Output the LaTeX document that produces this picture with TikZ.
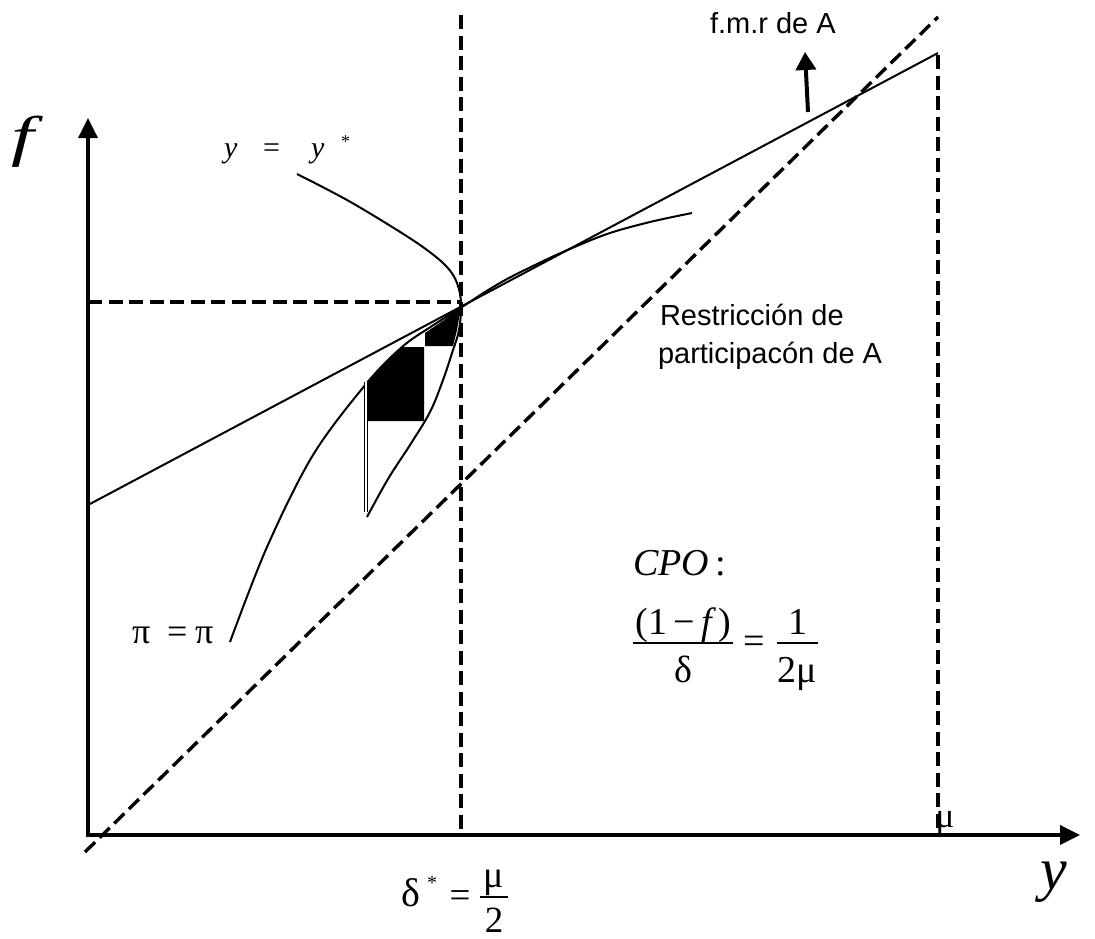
\documentclass[tikz,border=0pt]{standalone}
\usepackage{fontspec}
\setmainfont{Liberation Serif}
\newfontfamily\arial{Liberation Sans}
\usetikzlibrary{arrows.meta}
\tikzset{
  axis/.style={line width=3.6pt, -{Triangle[length=20pt,width=19pt]}},
  dsh/.style={line width=3.4pt, dash pattern=on 14pt off 6.5pt},
  curve/.style={line width=2pt, line join=round},
  lbl/.style={inner sep=0pt, outer sep=0pt},
  bar/.style={line width=1.6pt},
}
\newcommand{\fs}[1]{\fontsize{#1}{#1}\selectfont}
\begin{document}
\begin{tikzpicture}[x=1pt,y=-1pt]
\useasboundingbox (0,0) rectangle (1095,938);
% black fills
\fill[black] (366,383) -- (383,365) -- (402,347) -- (424,347) -- (424,421) -- (366,421) -- cycle;
\fill[black] (425,333) -- (425,346) -- (453,346) -- (457,330) -- (461,307) -- (444,320) -- cycle;
% dashed lines
\draw[dsh] (461,15) -- (461,835);
\draw[dsh] (938,55) -- (938,835);
\draw[dsh] (88,302) -- (461,302);
\draw[dsh] (85,852) -- (938,17);
% solid line (f.m.r de A)
\draw[curve] (88,505) -- (938,53);
% y = y* curve
\draw[curve] plot[smooth, tension=0.6] coordinates {(297,174) (347,200) (397,230) (427,250) (447,267) (457,283) (461,303) (459,330) (452,353) (443,380) (430,412) (410,445) (388,479) (367,517)};
% pi = pi curve
\draw[curve] plot[smooth, tension=0.55] coordinates {(230,642) (267,547) (313,455) (366,384) (402,347) (432,326) (462,307) (485,292) (507,279) (535,265) (563,252) (607,234) (650,222) (692,213)};
% vertical double line
\draw[line width=1pt, double, double distance=1.3pt] (366,382) -- (366,512);
% axes
\draw[axis] (88,837) -- (88,118);
\draw[axis] (86,835) -- (1080,835);
% f.m.r arrow
\node[lbl, anchor=base west] (fmr) at (710,33) {\arial\fs{29}f.m.r de A};
\coordinate (fmrtail) at (808,112);
\coordinate (fmrtip) at (805,52);
\draw[line width=4pt, -{Triangle[length=18pt,width=20pt]}] (fmrtail) -- (fmrtip);
% labels
\node[lbl, anchor=base west] (r1) at (660,325) {\arial\fs{29}Restricción de};
\node[lbl, anchor=base west] (r2) at (658,363) {\arial\fs{29}participacón de A};
\node[lbl, anchor=base west] (fl) at (11,155) {\fs{56}\itshape\scalebox{1.45}[1]{f}};
\node[lbl, anchor=base west] (yl) at (1040,889) {\fs{60}\itshape y};
% y = y*
\node[lbl, anchor=base west] (ys1) at (224,157) {\fs{30}\itshape y};
\node[lbl, anchor=base west] (ys2) at (263,157) {\fs{30}=};
\node[lbl, anchor=base west] (ys3) at (311,157) {\fs{30}\itshape y};
\node[lbl, anchor=base west] (ys4) at (341,147) {\fs{18}*};
% pi = pi
\node[lbl, anchor=base west] (pi1) at (132,643) {\fs{36}π};
\node[lbl, anchor=base west] (pieq) at (167,643) {\fs{36}=};
\node[lbl, anchor=base west] (pi2) at (195,643) {\fs{36}π};
% CPO
\node[lbl, anchor=base west] (cpo) at (633,575) {\fs{38}\itshape CPO\upshape\,:};
\node[lbl, anchor=base] (n1) at (683,634) {\fs{38}(1\,−\,\itshape f\upshape\,)};
\draw[bar] (633,643) -- (733,643);
\node[lbl, anchor=base] (d1) at (683,682) {\fs{38}δ};
\node[lbl] (eq1) at (754,645) {\fs{38}=};
\node[lbl, anchor=base] (n2) at (798,634) {\fs{38}1};
\draw[bar] (777,643) -- (818,643);
\node[lbl, anchor=base] (d2) at (797,682) {\fs{38}2μ};
% delta* = mu/2
\node[lbl, anchor=base west] (dl) at (401,906) {\fs{40}δ};
\node[lbl, anchor=base west] (ds) at (427,889) {\fs{20}*};
\node[lbl] (eq2) at (460,899) {\fs{37}=};
\draw[bar] (480,897) -- (508,897);
\node[lbl, anchor=base] (mu1) at (494,887) {\fs{38}μ};
\node[lbl, anchor=base] (two) at (494,932) {\fs{37}2};
% mu on axis
\node[lbl, anchor=base] (mul) at (945,827) {\fs{35}μ};
\end{tikzpicture}
\end{document}
